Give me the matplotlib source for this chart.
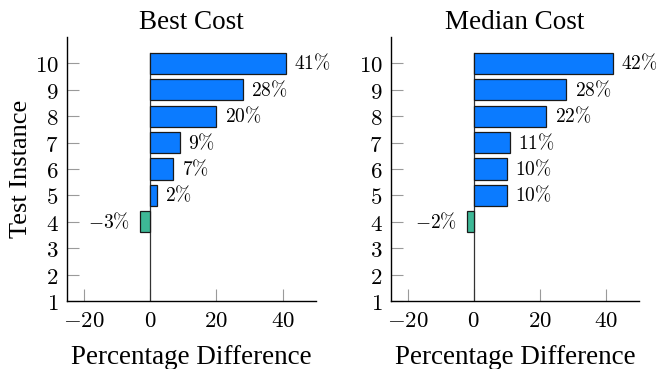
import matplotlib
matplotlib.use("Agg")
import matplotlib.pyplot as plt
from matplotlib.ticker import FuncFormatter

# Percentage difference per test instance
instances = [4, 5, 6, 7, 8, 9, 10]
best_cost = [-3, 2, 7, 9, 20, 28, 41]
median_cost = [-2, 10, 10, 11, 22, 28, 42]

panel_titles = ["Best Cost", "Median Cost"]
x_label = "Percentage Difference"
y_label = "Test Instance"

POS = "#0B7BFF"
NEG = "#3DB896"
TICK_GRAY = "#9a9a9a"

plt.rcParams["mathtext.fontset"] = "cm"
serif = ["Liberation Serif", "DejaVu Serif"]

fig = plt.figure(figsize=(6.56, 3.69), dpi=100)
W, H = 656, 369
axes_px = [(67, 37, 249, 264), (391, 37, 248, 264)]

fmt = FuncFormatter(lambda v, p: f"${int(v)}$")

for i, (vals, title) in enumerate(zip([best_cost, median_cost], panel_titles)):
    x0, y0, w, h = axes_px[i]
    ax = fig.add_axes([x0 / W, 1 - (y0 + h) / H, w / W, h / H])
    colors = [POS if v >= 0 else NEG for v in vals]
    ax.barh(instances, vals, height=0.8, color=colors,
            edgecolor="#1a1a1a", linewidth=0.9, zorder=3)
    ax.plot([0, 0], [1, 10.4], color="#333333", lw=0.9, zorder=2)
    for y, v in zip(instances, vals):
        if v >= 0:
            ax.annotate(f"${v}\\%$", (v, y), xytext=(6, 0), textcoords="offset points",
                        ha="left", va="center", fontsize=14)
        else:
            ax.annotate(f"$-{abs(v)}\\%$", (v, y), xytext=(-7, 0), textcoords="offset points",
                        ha="right", va="center", fontsize=14)
    ax.set_xlim(-25, 50)
    ax.set_ylim(1, 11)
    ax.set_xticks([-20, 0, 20, 40])
    ax.set_yticks(range(1, 11))
    ax.xaxis.set_major_formatter(fmt)
    ax.yaxis.set_major_formatter(fmt)
    for s in ["top", "right"]:
        ax.spines[s].set_visible(False)
    for s in ["left", "bottom"]:
        ax.spines[s].set_linewidth(1.0)
        ax.spines[s].set_color("black")
    ax.tick_params(direction="in", length=8.5, width=0.8, color=TICK_GRAY,
                   labelsize=16.5, pad=6)
    ax.set_title(title, fontsize=19.5, family=serif, pad=6)
    ax.set_xlabel(x_label, fontsize=19.5, family=serif, labelpad=9)
    if i == 0:
        ax.set_ylabel(y_label, fontsize=19, family=serif, labelpad=2)

fig.savefig("out.png", dpi=100)
